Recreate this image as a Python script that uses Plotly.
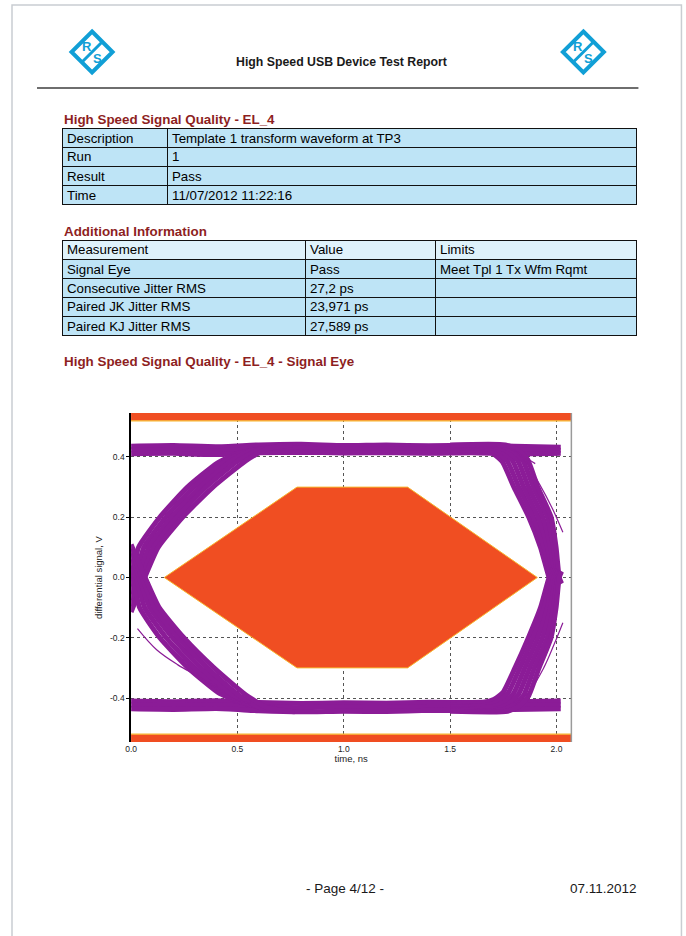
import plotly.graph_objects as go

# ---------------- page texts ----------------
REPORT_TITLE = "High Speed USB Device Test Report"
SECTION_1 = "High Speed Signal Quality - EL_4"
SECTION_2 = "Additional Information"
SECTION_3 = "High Speed Signal Quality - EL_4 - Signal Eye"
FOOTER_PAGE = "- Page 4/12 -"
FOOTER_DATE = "07.11.2012"

# ---------------- table data ----------------
INFO_LABELS = ["Description", "Run", "Result", "Time"]
INFO_VALUES = ["Template 1 transform waveform at TP3", "1", "Pass", "11/07/2012 11:22:16"]

MEAS_HEADER = ["Measurement", "Value", "Limits"]
MEAS_NAMES = ["Signal Eye", "Consecutive Jitter RMS", "Paired JK Jitter RMS", "Paired KJ Jitter RMS"]
MEAS_VALUES = ["Pass", "27,2 ps", "23,971 ps", "27,589 ps"]
MEAS_LIMITS = ["Meet Tpl 1 Tx Wfm Rqmt", "", "", ""]

# ---------------- chart axes ----------------
X_TITLE = "time, ns"
Y_TITLE = "differential signal, V"
X_TICKS = [0.0, 0.5, 1.0, 1.5, 2.0]
X_TICK_LABELS = ["0.0", "0.5", "1.0", "1.5", "2.0"]
Y_TICKS = [-0.4, -0.2, 0.0, 0.2, 0.4]
Y_TICK_LABELS = ["-0.4", "-0.2", "0.0", "0.2", "0.4"]
X_RANGE = [0.0, 2.07]
Y_RANGE = [-0.546, 0.546]

# ---------------- eye mask (template 1) ----------------
MASK_T = [0.156, 0.78, 1.30, 1.91, 1.30, 0.78, 0.156]
MASK_V = [0.0, 0.30, 0.30, 0.0, -0.30, -0.30, 0.0]
LIMIT_HIGH = 0.52
LIMIT_LOW = -0.52

# ---------------- eye traces ----------------
LEVEL_T = [0.0, 0.2, 0.4, 0.6, 0.8, 1.0, 1.2, 1.4, 1.6, 1.8, 2.02]
HIGH_V_A = [0.436, 0.438, 0.434, 0.440, 0.442, 0.438, 0.440, 0.437, 0.439, 0.436, 0.432]
HIGH_V_B = [0.424, 0.425, 0.421, 0.427, 0.429, 0.426, 0.428, 0.425, 0.427, 0.423, 0.422]
HIGH_V_C = [0.411, 0.412, 0.408, 0.414, 0.416, 0.413, 0.415, 0.412, 0.414, 0.410, 0.412]
LOW_V_A = [-0.410, -0.412, -0.409, -0.415, -0.418, -0.416, -0.417, -0.414, -0.415, -0.412, -0.410]
LOW_V_B = [-0.423, -0.425, -0.422, -0.429, -0.432, -0.430, -0.431, -0.428, -0.429, -0.425, -0.423]
LOW_V_C = [-0.436, -0.438, -0.435, -0.442, -0.446, -0.444, -0.445, -0.441, -0.442, -0.438, -0.436]

RISE_L1_T = [0.000, 0.008, 0.035, 0.135, 0.265, 0.405, 0.500, 0.600]
RISE_L1_V = [-0.030, 0.000, 0.100, 0.200, 0.300, 0.380, 0.412, 0.424]
RISE_L2_T = [0.000, 0.022, 0.060, 0.163, 0.295, 0.435, 0.530, 0.640]
RISE_L2_V = [-0.055, 0.000, 0.100, 0.200, 0.300, 0.382, 0.416, 0.428]
RISE_L3_T = [0.000, 0.036, 0.083, 0.190, 0.325, 0.465, 0.560, 0.680]
RISE_L3_V = [-0.075, 0.000, 0.100, 0.200, 0.300, 0.384, 0.420, 0.432]
RISE_L4_T = [0.000, 0.050, 0.105, 0.215, 0.352, 0.500, 0.600, 0.720]
RISE_L4_V = [-0.095, 0.000, 0.100, 0.200, 0.300, 0.386, 0.424, 0.436]
RISE_L5_T = [0.000, 0.064, 0.127, 0.242, 0.385, 0.540, 0.640, 0.760]
RISE_L5_V = [-0.115, 0.000, 0.100, 0.200, 0.300, 0.388, 0.428, 0.440]

FALL_L1_T = [0.000, 0.010, 0.040, 0.135, 0.268, 0.410, 0.505, 0.610]
FALL_L1_V = [0.040, 0.000, -0.100, -0.200, -0.300, -0.382, -0.412, -0.424]
FALL_L2_T = [0.000, 0.024, 0.064, 0.165, 0.298, 0.440, 0.535, 0.650]
FALL_L2_V = [0.060, 0.000, -0.100, -0.200, -0.300, -0.384, -0.418, -0.430]
FALL_L3_T = [0.000, 0.038, 0.088, 0.195, 0.328, 0.470, 0.565, 0.690]
FALL_L3_V = [0.080, 0.000, -0.100, -0.200, -0.300, -0.386, -0.424, -0.436]
FALL_L4_T = [0.000, 0.052, 0.110, 0.222, 0.358, 0.502, 0.598, 0.720]
FALL_L4_V = [0.095, 0.000, -0.100, -0.200, -0.300, -0.388, -0.430, -0.442]
FALL_L5_T = [0.000, 0.066, 0.132, 0.248, 0.390, 0.540, 0.640, 0.770]
FALL_L5_V = [0.110, 0.000, -0.100, -0.200, -0.300, -0.390, -0.432, -0.446]

FALL_R1_T = [1.500, 1.640, 1.700, 1.745, 1.800, 1.870, 1.925, 1.965, 1.985]
FALL_R1_V = [0.424, 0.424, 0.412, 0.385, 0.300, 0.200, 0.100, 0.000, -0.030]
FALL_R2_T = [1.500, 1.664, 1.724, 1.769, 1.823, 1.892, 1.942, 1.976, 1.995]
FALL_R2_V = [0.428, 0.428, 0.414, 0.386, 0.300, 0.200, 0.100, 0.000, -0.030]
FALL_R3_T = [1.500, 1.688, 1.748, 1.793, 1.846, 1.914, 1.958, 1.987, 2.003]
FALL_R3_V = [0.432, 0.432, 0.416, 0.388, 0.300, 0.200, 0.100, 0.000, -0.028]
FALL_R4_T = [1.500, 1.712, 1.772, 1.817, 1.869, 1.936, 1.972, 1.997, 2.010]
FALL_R4_V = [0.435, 0.435, 0.418, 0.389, 0.300, 0.200, 0.100, 0.000, -0.025]
FALL_R5_T = [1.500, 1.736, 1.796, 1.841, 1.892, 1.958, 1.986, 2.006, 2.018]
FALL_R5_V = [0.438, 0.438, 0.420, 0.390, 0.300, 0.200, 0.100, 0.000, -0.022]
FALL_R6_T = [1.500, 1.760, 1.820, 1.864, 1.912, 1.975, 1.998, 2.013, 2.024]
FALL_R6_V = [0.440, 0.440, 0.422, 0.392, 0.300, 0.200, 0.100, 0.000, -0.020]

RISE_R1_T = [1.500, 1.650, 1.705, 1.750, 1.805, 1.868, 1.925, 1.965, 1.985]
RISE_R1_V = [-0.416, -0.416, -0.405, -0.380, -0.300, -0.200, -0.100, 0.000, 0.030]
RISE_R2_T = [1.500, 1.674, 1.729, 1.774, 1.828, 1.890, 1.942, 1.976, 1.995]
RISE_R2_V = [-0.424, -0.424, -0.410, -0.382, -0.300, -0.200, -0.100, 0.000, 0.030]
RISE_R3_T = [1.500, 1.698, 1.753, 1.798, 1.851, 1.912, 1.958, 1.987, 2.003]
RISE_R3_V = [-0.430, -0.430, -0.414, -0.385, -0.300, -0.200, -0.100, 0.000, 0.028]
RISE_R4_T = [1.500, 1.722, 1.777, 1.822, 1.874, 1.934, 1.972, 1.997, 2.010]
RISE_R4_V = [-0.436, -0.436, -0.418, -0.387, -0.300, -0.200, -0.100, 0.000, 0.025]
RISE_R5_T = [1.500, 1.746, 1.801, 1.846, 1.896, 1.956, 1.986, 2.006, 2.018]
RISE_R5_V = [-0.440, -0.440, -0.422, -0.390, -0.300, -0.200, -0.100, 0.000, 0.022]
RISE_R6_T = [1.500, 1.770, 1.825, 1.869, 1.918, 1.974, 1.998, 2.013, 2.024]
RISE_R6_V = [-0.444, -0.444, -0.426, -0.393, -0.300, -0.200, -0.100, 0.000, 0.020]

STRAY_1_T = [0.030, 0.120, 0.220, 0.320, 0.400, 0.470, 0.560]
STRAY_1_V = [-0.170, -0.240, -0.290, -0.330, -0.365, -0.400, -0.418]
STRAY_2_T = [1.800, 1.850, 1.900]
STRAY_2_V = [0.425, 0.400, 0.378]
STRAY_3_T = [1.780, 1.850, 1.920, 1.980, 2.030]
STRAY_3_V = [0.430, 0.390, 0.310, 0.230, 0.150]
STRAY_4_T = [1.800, 1.870, 1.940, 1.990, 2.030]
STRAY_4_V = [-0.420, -0.380, -0.300, -0.220, -0.150]

# ---------------- styles ----------------
FONT = "Liberation Sans"
PURPLE = "#8B1C97"
ORANGE = "#F04E22"
MASK_EDGE = "#F7B52E"
CYAN = "#119FD6"
CELL_BLUE = "#BEE4F6"
HEAD_BLUE = "#DFF2FB"
DARK_RED = "#8E1F1F"

W, H = 686, 936
# the captured picture is slightly compressed horizontally; map reference pixels to figure pixels
SHIFT_X, SCALE_X = 6.0, 0.9906


def px(x):
    return ((x - SHIFT_X) / SCALE_X) / W


def py(y):
    return 1 - y / H


fig = go.Figure()

# ---------- eye diagram ----------
thick = [
    (LEVEL_T, HIGH_V_A), (LEVEL_T, HIGH_V_B), (LEVEL_T, HIGH_V_C),
    (LEVEL_T, LOW_V_A), (LEVEL_T, LOW_V_B), (LEVEL_T, LOW_V_C),
    (RISE_L1_T, RISE_L1_V), (RISE_L2_T, RISE_L2_V), (RISE_L3_T, RISE_L3_V),
    (RISE_L4_T, RISE_L4_V), (RISE_L5_T, RISE_L5_V),
    (FALL_L1_T, FALL_L1_V), (FALL_L2_T, FALL_L2_V), (FALL_L3_T, FALL_L3_V),
    (FALL_L4_T, FALL_L4_V), (FALL_L5_T, FALL_L5_V),
    (FALL_R1_T, FALL_R1_V), (FALL_R2_T, FALL_R2_V), (FALL_R3_T, FALL_R3_V),
    (FALL_R4_T, FALL_R4_V), (FALL_R5_T, FALL_R5_V), (FALL_R6_T, FALL_R6_V),
    (RISE_R1_T, RISE_R1_V), (RISE_R2_T, RISE_R2_V), (RISE_R3_T, RISE_R3_V),
    (RISE_R4_T, RISE_R4_V), (RISE_R5_T, RISE_R5_V), (RISE_R6_T, RISE_R6_V),
]
for t, v in thick:
    fig.add_trace(go.Scatter(x=t, y=v, mode="lines",
                             line=dict(color=PURPLE, width=5, shape="spline", smoothing=0.5),
                             hoverinfo="skip", showlegend=False))
for t, v in [(STRAY_1_T, STRAY_1_V), (STRAY_2_T, STRAY_2_V), (STRAY_3_T, STRAY_3_V), (STRAY_4_T, STRAY_4_V)]:
    fig.add_trace(go.Scatter(x=t, y=v, mode="lines", line=dict(color=PURPLE, width=1.2, shape="spline"),
                             hoverinfo="skip", showlegend=False))

# mask hexagon
fig.add_trace(go.Scatter(x=MASK_T, y=MASK_V, mode="lines", fill="toself", fillcolor=ORANGE,
                         line=dict(color=MASK_EDGE, width=1), hoverinfo="skip", showlegend=False))
# upper / lower limit bands
x_lo, x_hi = X_RANGE[0] - 0.1, X_RANGE[1] + 0.1
fig.add_trace(go.Scatter(x=[x_lo, x_hi, x_hi, x_lo, x_lo],
                         y=[LIMIT_HIGH, LIMIT_HIGH, Y_RANGE[1] + 0.1, Y_RANGE[1] + 0.1, LIMIT_HIGH],
                         mode="lines", fill="toself", fillcolor=ORANGE, line=dict(color=MASK_EDGE, width=1.2),
                         hoverinfo="skip", showlegend=False))
fig.add_trace(go.Scatter(x=[x_lo, x_hi, x_hi, x_lo, x_lo],
                         y=[LIMIT_LOW, LIMIT_LOW, Y_RANGE[0] - 0.1, Y_RANGE[0] - 0.1, LIMIT_LOW],
                         mode="lines", fill="toself", fillcolor=ORANGE, line=dict(color=MASK_EDGE, width=1.2),
                         hoverinfo="skip", showlegend=False))

# ---------- tables (cells by go.Table, cell text placed as centred text rows) ----------
TABLE_X0, TABLE_X1 = 62, 636
ROW_H = 19
cell_line = dict(color="#111111", width=1)
annotations = []


def add_table(top, colw, header_vals, header_fill, columns):
    nrows = 1 + len(columns[0])
    fig.add_trace(go.Table(
        domain=dict(x=[px(TABLE_X0), px(TABLE_X1)], y=[py(top + nrows * ROW_H + 2), py(top)]),
        columnwidth=colw,
        header=dict(values=[""] * len(colw), fill_color=header_fill, line=cell_line, height=ROW_H),
        cells=dict(values=[[""] * len(c) for c in columns], fill_color=CELL_BLUE, line=cell_line,
                   height=ROW_H),
    ))
    x_left = TABLE_X0
    for j, w in enumerate(colw):
        texts = [header_vals[j]] + list(columns[j])
        for i, txt in enumerate(texts):
            if txt:
                annotations.append(dict(text=txt, x=px(x_left + 3), y=py(top + (i + 0.5) * ROW_H),
                                        xref="paper", yref="paper", xanchor="left", yanchor="middle",
                                        showarrow=False, font=dict(family=FONT, size=13.3, color="black")))
        x_left += w


add_table(128.5, [105, 469], [INFO_LABELS[0], INFO_VALUES[0]], CELL_BLUE, [INFO_LABELS[1:], INFO_VALUES[1:]])
add_table(240.5, [243, 130, 201], MEAS_HEADER, HEAD_BLUE, [MEAS_NAMES, MEAS_VALUES, MEAS_LIMITS])

# ---------- page decorations ----------
shapes = []
shapes.append(dict(type="rect", xref="paper", yref="paper", x0=px(12), x1=px(681), y0=py(5), y1=py(950),
                   line=dict(color="#C9CDD2", width=1.5)))
shapes.append(dict(type="line", xref="paper", yref="paper", x0=px(37), x1=px(638), y0=py(88), y1=py(88),
                   line=dict(color="#6E6E6E", width=2)))
# plot frame, right side
shapes.append(dict(type="line", xref="x domain", yref="y domain", x0=1, x1=1, y0=0, y1=1,
                   line=dict(color="#9A9A9A", width=1.5)))

for cx, cy in [(92, 52), (583, 52)]:
    s = 20.5
    path = (f"M {px(cx)},{py(cy - s)} L {px(cx + s)},{py(cy)} "
            f"L {px(cx)},{py(cy + s)} L {px(cx - s)},{py(cy)} Z")
    shapes.append(dict(type="path", xref="paper", yref="paper", path=path,
                       line=dict(color=CYAN, width=4), fillcolor="white"))
    shapes.append(dict(type="line", xref="paper", yref="paper",
                       x0=px(cx + s / 2), y0=py(cy - s / 2), x1=px(cx - s / 2), y1=py(cy + s / 2),
                       line=dict(color=CYAN, width=3)))
    annotations.append(dict(text="<b>R</b>", x=px(cx - 5), y=py(cy - 6), xref="paper", yref="paper",
                            xanchor="center", yanchor="middle",
                            showarrow=False, font=dict(family=FONT, size=13, color=CYAN)))
    annotations.append(dict(text="<b>S</b>", x=px(cx + 5.5), y=py(cy + 6.5), xref="paper", yref="paper",
                            xanchor="center", yanchor="middle",
                            showarrow=False, font=dict(family=FONT, size=13, color=CYAN)))

annotations.append(dict(text=f"<b>{REPORT_TITLE}</b>", x=px(341), y=py(62), xref="paper", yref="paper",
                        xanchor="center", yanchor="middle",
                        showarrow=False, font=dict(family=FONT, size=12.3, color="#1a1a1a")))
for txt, yy in [(SECTION_1, 119), (SECTION_2, 231), (SECTION_3, 362)]:
    annotations.append(dict(text=f"<b>{txt}</b>", x=px(62), y=py(yy), xref="paper", yref="paper",
                            xanchor="left", yanchor="middle", showarrow=False,
                            font=dict(family=FONT, size=13.4, color=DARK_RED)))
annotations.append(dict(text=FOOTER_PAGE, x=px(345), y=py(888), xref="paper", yref="paper",
                        xanchor="center", yanchor="middle",
                        showarrow=False, font=dict(family=FONT, size=13.5, color="#1a1a1a")))
annotations.append(dict(text=FOOTER_DATE, x=px(639), y=py(888), xref="paper", yref="paper",
                        xanchor="right", yanchor="middle",
                        showarrow=False, font=dict(family=FONT, size=13.5, color="#1a1a1a")))

tick_font = dict(family=FONT, size=8.5, color="#222222")
title_font = dict(family=FONT, size=9.5, color="#222222")
fig.update_layout(
    width=W, height=H, margin=dict(l=0, r=0, t=0, b=0), autosize=False,
    paper_bgcolor="white", plot_bgcolor="white", showlegend=False, hovermode=False,
    shapes=shapes, annotations=annotations,
    xaxis=dict(domain=[px(131), px(571)], range=X_RANGE, tickvals=X_TICKS, ticktext=X_TICK_LABELS,
               showgrid=True, gridcolor="#555555", griddash="3px,3px", gridwidth=1, zeroline=False,
               showline=False, ticks="", tickfont=tick_font, fixedrange=True,
               title=dict(text=X_TITLE, font=title_font, standoff=0)),
    yaxis=dict(domain=[py(742), py(413)], range=Y_RANGE, tickvals=Y_TICKS, ticktext=Y_TICK_LABELS,
               showgrid=True, gridcolor="#555555", griddash="3px,3px", gridwidth=1, zeroline=False,
               showline=True, linecolor="black", linewidth=1.5, ticks="outside", ticklen=3,
               tickcolor="black", tickfont=tick_font, fixedrange=True,
               title=dict(text=Y_TITLE, font=title_font, standoff=6)),
)

fig.write_html(
    "out.html",
    config={"displayModeBar": False},
    post_script="document.body.style.margin='0';document.body.style.overflow='hidden';"
                "document.documentElement.style.overflow='hidden';",
)
